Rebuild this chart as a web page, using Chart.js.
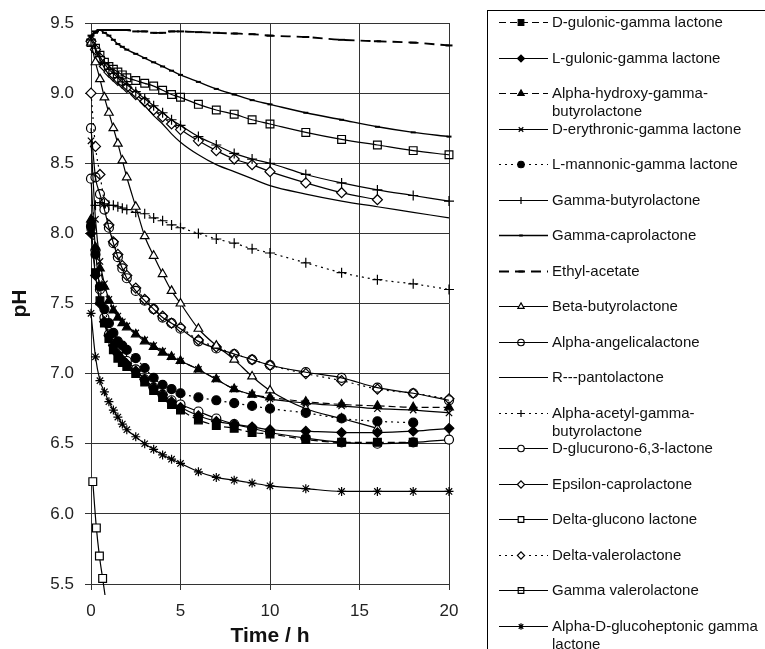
<!DOCTYPE html>
<html>
<head>
<meta charset="utf-8">
<script src="https://cdn.jsdelivr.net/npm/chart.js@4.4.0/dist/chart.umd.min.js"></script>
<style>
  html, body { margin: 0; padding: 0; background: #fff; }
</style>
</head>
<body>
<canvas id="phChart" width="765" height="649"></canvas>
<script>
// sampling times (h)
const hours = [0,0.25,0.5,0.75,1,1.25,1.5,1.75,2,2.5,3,3.5,4,4.5,5,6,7,8,9,10,12,14,16,18,20];
const gluconoHours = [0.1,0.3,0.47,0.65,0.85];

// pH
const dGulonic      = [8.05,7.72,7.52,7.36,7.25,7.17,7.11,7.08,7.05,7.00,6.94,6.88,6.83,6.78,6.74,6.67,6.63,6.61,6.58,6.57,6.53,6.51,6.51,6.51,null];
const lGulonic      = [8.00,7.70,7.50,7.37,7.27,7.20,7.14,7.10,7.07,7.02,6.96,6.90,6.85,6.80,6.76,6.70,6.66,6.64,6.62,6.60,6.59,6.58,6.58,6.59,6.61];
const alphaHydroxy  = [8.10,7.90,7.75,7.62,7.52,7.45,7.40,7.36,7.33,7.28,7.23,7.19,7.15,7.12,7.09,7.03,6.96,6.89,6.85,6.83,6.80,6.78,6.77,6.76,6.76];
const dErythronic   = [8.66,8.10,7.80,7.64,7.53,7.46,7.41,7.37,7.34,7.29,7.24,7.20,7.16,7.12,7.09,7.03,6.96,6.89,6.85,6.82,6.79,6.77,6.75,6.74,6.72];
const lMannonic     = [8.05,7.85,7.62,7.46,7.36,7.29,7.23,7.20,7.17,7.11,7.04,6.97,6.92,6.89,6.86,6.83,6.81,6.79,6.77,6.75,6.72,6.68,6.66,6.65,null];
const gammaButyro   = [9.38,9.32,9.26,9.21,9.17,9.14,9.11,9.08,9.06,9.01,8.96,8.91,8.86,8.81,8.77,8.69,8.63,8.57,8.53,8.50,8.42,8.36,8.31,8.27,8.23];
const gammaCapro    = [9.40,9.43,9.45,9.43,9.41,9.38,9.35,9.33,9.31,9.28,9.25,9.22,9.19,9.16,9.13,9.08,9.03,8.99,8.95,8.92,8.86,8.81,8.76,8.72,8.69];
const ethylAcetate  = [9.41,9.44,9.45,9.45,9.45,9.45,9.45,9.45,9.45,9.44,9.44,9.43,9.43,9.44,9.44,9.435,9.43,9.425,9.42,9.41,9.40,9.38,9.37,9.36,9.34];
const betaButyro    = [9.36,9.22,9.10,8.97,8.86,8.75,8.64,8.52,8.40,8.19,7.98,7.84,7.71,7.59,7.50,7.32,7.20,7.10,6.98,6.88,6.75,6.68,6.61,null,null];
const angelica      = [8.75,8.40,8.28,8.17,8.04,7.93,7.83,7.75,7.68,7.59,7.52,7.46,7.40,7.36,7.32,7.23,7.18,7.14,7.10,7.06,7.01,6.97,6.90,6.86,6.81];
const rPanto        = [9.38,9.31,9.24,9.18,9.13,9.10,9.07,9.05,9.02,8.97,8.91,8.84,8.78,8.71,8.65,8.56,8.49,8.44,8.39,8.34,8.28,8.23,8.19,8.15,8.11];
const alphaAcetyl   = [8.05,8.20,8.22,8.21,8.20,8.20,8.19,8.18,8.17,8.15,8.14,8.11,8.09,8.06,8.04,8.00,7.96,7.93,7.89,7.86,7.79,7.72,7.67,7.64,7.60];
const dGlucurono    = [8.39,7.88,7.60,7.40,7.28,7.21,7.16,7.12,7.09,7.03,6.96,6.90,6.85,6.81,6.78,6.73,6.68,6.64,6.61,6.58,6.54,6.51,6.50,6.51,6.53];
const epsilon       = [9.37,9.31,9.25,9.19,9.15,9.12,9.09,9.07,9.04,8.99,8.94,8.88,8.83,8.78,8.74,8.66,8.59,8.53,8.49,8.44,8.36,8.29,8.24,null,null];
const deltaGlucono  = [6.23,5.90,5.70,5.54,5.36];
const deltaValero   = [9.00,8.62,8.42,8.22,8.06,7.94,7.85,7.77,7.70,7.61,7.53,7.46,7.41,7.36,7.33,7.24,7.19,7.14,7.10,7.06,7.00,6.95,6.89,6.86,6.82];
const gammaValero   = [9.36,9.32,9.27,9.22,9.19,9.17,9.15,9.13,9.11,9.09,9.07,9.05,9.02,8.99,8.97,8.92,8.88,8.85,8.81,8.78,8.72,8.67,8.63,8.59,8.56];
const glucoheptonic = [7.43,7.12,6.95,6.87,6.80,6.74,6.69,6.64,6.60,6.55,6.50,6.46,6.42,6.39,6.36,6.30,6.26,6.24,6.22,6.20,6.18,6.16,6.16,6.16,6.16];

const xTicks = [0,5,10,15,20];
const yTicks = [5.5,6,6.5,7,7.5,8,8.5,9,9.5];

// legend text, one entry per series (split where the figure wraps)
const legendLines = [
  ['D-gulonic-gamma lactone'],
  ['L-gulonic-gamma lactone'],
  ['Alpha-hydroxy-gamma-','butyrolactone'],
  ['D-erythronic-gamma lactone'],
  ['L-mannonic-gamma lactone'],
  ['Gamma-butyrolactone'],
  ['Gamma-caprolactone'],
  ['Ethyl-acetate'],
  ['Beta-butyrolactone'],
  ['Alpha-angelicalactone'],
  ['R---pantolactone'],
  ['Alpha-acetyl-gamma-','butyrolactone'],
  ['D-glucurono-6,3-lactone'],
  ['Epsilon-caprolactone'],
  ['Delta-glucono lactone'],
  ['Delta-valerolactone'],
  ['Gamma valerolactone'],
  ['Alpha-D-glucoheptonic gamma','lactone']
];

const BLACK = '#000', WHITE = '#fff', NONE = 'rgba(0,0,0,0)';
const DASH = [7,4], DOT = [2,4];

const looks = [
  {y: dGulonic,      shape:'rect',     r:5.5, bg:BLACK, dash:DASH},
  {y: lGulonic,      shape:'rectRot',  r:4.8, bg:BLACK, dash:[]},
  {y: alphaHydroxy,  shape:'triangle', r:5,   bg:BLACK, dash:DASH},
  {y: dErythronic,   shape:'crossRot', r:4.5, bg:BLACK, dash:[]},
  {y: lMannonic,     shape:'circle',   r:4.5, bg:BLACK, dash:DOT},
  {y: gammaButyro,   shape:'cross',    r:5,   bg:BLACK, dash:[]},
  {y: gammaCapro,    shape:'line',     r:2.5, bg:BLACK, dash:[], w:1.4, pw:2},
  {y: ethylAcetate,  shape:'line',     r:3.5, bg:BLACK, dash:[10,6], w:1.8, pw:2},
  {y: betaButyro,    shape:'triangle', r:5,   bg:WHITE, dash:[]},
  {y: angelica,      shape:'circle',   r:4.5, bg:NONE,  dash:[]},
  {y: rPanto,        shape:'circle',   r:0,   bg:NONE,  dash:[]},
  {y: alphaAcetyl,   shape:'cross',    r:5,   bg:BLACK, dash:DOT},
  {y: dGlucurono,    shape:'circle',   r:4.5, bg:WHITE, dash:[]},
  {y: epsilon,       shape:'rectRot',  r:5,   bg:WHITE, dash:[]},
  {y: deltaGlucono,  shape:'rect',     r:5.5, bg:WHITE, dash:[], x: gluconoHours},
  {y: deltaValero,   shape:'rectRot',  r:5,   bg:WHITE, dash:DOT},
  {y: gammaValero,   shape:'rect',     r:5.5, bg:NONE,  dash:[]},
  {y: glucoheptonic, shape:'star',     r:4.5, bg:BLACK, dash:[]}
];

const datasets = looks.map((s, i) => {
  const xs = s.x || hours;
  const pts = [];
  s.y.forEach((v, k) => { if (v !== null) pts.push({x: xs[k], y: v}); });
  const lines = legendLines[i];
  const label = lines.reduce((a, b) => a.endsWith('-') ? a + b : a + ' ' + b);
  return {
    label,
    data: pts,
    borderColor: BLACK,
    borderWidth: s.w || 1.2,
    borderDash: s.dash,
    pointStyle: s.shape,
    pointRadius: s.r,
    pointBackgroundColor: s.bg,
    pointBorderColor: BLACK,
    pointBorderWidth: s.pw || 1.2,
    cubicInterpolationMode: 'monotone',
    clip: {left: 8, top: 8, right: 8, bottom: 11},
    fill: false
  };
});

const FONT = '"Liberation Sans", Arial, Helvetica, sans-serif';

// legend box on the right, drawn from each dataset's own style
const sideLegend = {
  id: 'sideLegend',
  afterDraw(chart) {
    const ctx = chart.ctx;
    ctx.save();
    ctx.setLineDash([]);
    ctx.lineWidth = 1;
    ctx.strokeStyle = BLACK;
    ctx.strokeRect(487.5, 10.5, 320, 700);
    ctx.font = '15px ' + FONT;
    ctx.textBaseline = 'middle';
    chart.data.datasets.forEach((ds, i) => {
      const y = Math.round(22 + i * 35.5) + 0.5;
      ctx.strokeStyle = BLACK;
      ctx.lineWidth = ds.borderWidth;
      ctx.setLineDash(ds.borderDash || []);
      ctx.beginPath();
      ctx.moveTo(499, y);
      ctx.lineTo(548, y);
      ctx.stroke();
      ctx.setLineDash([]);
      if (ds.pointRadius > 0 && Chart.helpers && Chart.helpers.drawPoint) {
        ctx.fillStyle = ds.pointBackgroundColor;
        ctx.strokeStyle = BLACK;
        ctx.lineWidth = ds.pointBorderWidth;
        Chart.helpers.drawPoint(ctx, {
          pointStyle: ds.pointStyle,
          radius: ds.pointRadius * 0.72,
          rotation: 0,
          borderWidth: ds.pointBorderWidth
        }, 521, y);
      }
      ctx.fillStyle = '#111';
      legendLines[i].forEach((line, k) => ctx.fillText(line, 552, y + k * 18));
    });
    ctx.restore();
  }
};

new Chart(document.getElementById('phChart').getContext('2d'), {
  type: 'line',
  data: { datasets },
  plugins: [sideLegend],
  options: {
    responsive: false,
    animation: false,
    layout: { padding: { left: 8, top: 23, right: 316, bottom: 0 } },
    plugins: { legend: { display: false }, tooltip: { enabled: false } },
    scales: {
      x: {
        type: 'linear', min: 0, max: 20,
        afterBuildTicks: s => { s.ticks = xTicks.map(v => ({ value: v })); },
        afterFit: s => { s.height = 65; },
        ticks: { color: '#222', padding: 11, font: { family: FONT, size: 17 } },
        grid: { color: '#333', lineWidth: 1, tickLength: 6 },
        border: { color: '#333' },
        title: { display: true, text: 'Time / h', color: '#111', padding: 0,
                 font: { family: FONT, size: 21, weight: 'bold' } }
      },
      y: {
        min: 5.5, max: 9.5,
        afterBuildTicks: s => { s.ticks = yTicks.map(v => ({ value: v })); },
        afterFit: s => { s.width = 83; },
        ticks: { color: '#222', padding: 11, font: { family: FONT, size: 17 } },
        grid: { color: '#333', lineWidth: 1, tickLength: 6 },
        border: { color: '#333' },
        title: { display: true, text: 'pH', color: '#111', padding: 0,
                 font: { family: FONT, size: 21, weight: 'bold' } }
      }
    }
  }
});
</script>
</body>
</html>
